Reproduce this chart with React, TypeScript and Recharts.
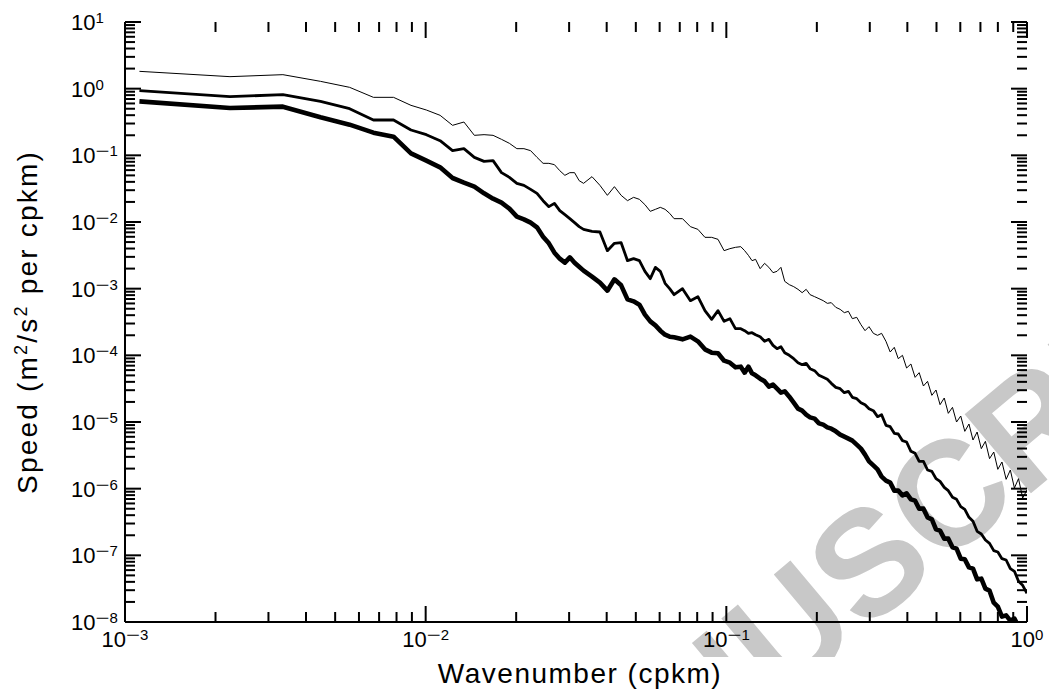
import { LineChart, Line, XAxis, YAxis } from 'recharts';

// spectral bin width of the wavenumber axis (cpkm)
const BIN_WIDTH = 0.001117;

// bins (dense at low k, thinned out at high k)
const binIndex = [
  1, 2, 3, 4, 5, 6, 7, 8, 9, 10,
  11, 12, 13, 14, 15, 16, 17, 18, 19, 20,
  21, 22, 23, 24, 25, 26, 27, 28, 29, 30,
  32, 34, 36, 38, 40, 42, 44, 46, 48, 50,
  52, 54, 56, 58, 60, 64, 68, 72, 76, 80,
  84, 88, 92, 96, 100, 103, 106, 109, 112, 116,
  120, 124, 128, 132, 136, 140, 145, 150, 155, 160,
  165, 170, 176, 182, 188, 194, 200, 207, 214, 221,
  228, 235, 243, 251, 259, 267, 276, 285, 294, 304,
  314, 324, 334, 345, 356, 368, 380, 392, 405, 418,
  432, 446, 460, 475, 490, 506, 522, 539, 556, 574,
  592, 611, 631, 651, 672, 694, 716, 739, 763, 788,
  813, 839, 866, 895,
];

// log10 of the spectral level, one value per bin
const thinLog10 = [
  0.26, 0.18, 0.21, 0.11, 0.02, -0.13, -0.13, -0.25, -0.32, -0.40,
  -0.55, -0.50, -0.70, -0.69, -0.70, -0.76, -0.82, -0.90, -0.90, -0.93,
  -1.03, -1.12, -1.12, -1.14, -1.23, -1.30, -1.26, -1.26, -1.38, -1.42,
  -1.32, -1.45, -1.60, -1.47, -1.60, -1.68, -1.63, -1.66, -1.74, -1.84,
  -1.81, -1.78, -1.81, -1.87, -1.95, -1.95, -2.07, -2.11, -2.23, -2.23,
  -2.26, -2.43, -2.40, -2.38, -2.37, -2.43, -2.50, -2.58, -2.56, -2.70,
  -2.62, -2.68, -2.76, -2.74, -2.68, -2.89, -2.94, -2.97, -3.01, -3.06,
  -3.01, -3.09, -3.12, -3.15, -3.18, -3.22, -3.21, -3.28, -3.31, -3.36,
  -3.34, -3.45, -3.43, -3.54, -3.63, -3.57, -3.67, -3.70, -3.67, -3.79,
  -3.95, -3.88, -4.05, -4.00, -4.19, -4.13, -4.33, -4.26, -4.46, -4.39,
  -4.60, -4.52, -4.74, -4.64, -4.87, -4.78, -5.00, -4.91, -5.14, -5.03,
  -5.27, -5.15, -5.40, -5.29, -5.55, -5.45, -5.71, -5.60, -5.86, -5.72,
  -5.99, -5.85, -6.14, -6.02,
];

const mediumLog10 = [
  -0.03, -0.12, -0.09, -0.19, -0.30, -0.47, -0.47, -0.62, -0.69, -0.78,
  -0.93, -0.90, -1.03, -1.09, -1.08, -1.26, -1.33, -1.42, -1.45, -1.51,
  -1.57, -1.68, -1.77, -1.72, -1.83, -1.89, -1.95, -2.01, -2.07, -2.11,
  -2.14, -2.15, -2.43, -2.32, -2.31, -2.58, -2.55, -2.58, -2.74, -2.85,
  -2.68, -2.74, -2.92, -3.00, -3.09, -3.00, -3.18, -3.12, -3.33, -3.46,
  -3.33, -3.49, -3.45, -3.60, -3.60, -3.63, -3.67, -3.66, -3.69, -3.72,
  -3.79, -3.76, -3.85, -3.90, -3.87, -3.96, -4.00, -4.05, -4.11, -4.14,
  -4.12, -4.20, -4.23, -4.30, -4.33, -4.36, -4.42, -4.48, -4.50, -4.56,
  -4.54, -4.63, -4.65, -4.71, -4.74, -4.80, -4.83, -4.92, -4.89, -5.05,
  -5.07, -5.17, -5.18, -5.28, -5.30, -5.44, -5.47, -5.59, -5.59, -5.72,
  -5.74, -5.85, -5.89, -5.98, -6.03, -6.13, -6.16, -6.27, -6.31, -6.43,
  -6.49, -6.64, -6.68, -6.77, -6.82, -6.93, -6.95, -7.05, -7.07, -7.20,
  -7.24, -7.39, -7.45, -7.57,
];

const thickLog10 = [
  -0.19, -0.29, -0.27, -0.43, -0.54, -0.66, -0.72, -0.97, -1.08, -1.18,
  -1.34, -1.41, -1.47, -1.57, -1.65, -1.71, -1.80, -1.92, -1.96, -2.01,
  -2.08, -2.22, -2.32, -2.46, -2.55, -2.61, -2.53, -2.61, -2.67, -2.73,
  -2.82, -2.91, -3.03, -2.86, -2.95, -3.16, -3.19, -3.24, -3.39, -3.49,
  -3.55, -3.63, -3.69, -3.72, -3.73, -3.76, -3.72, -3.79, -3.91, -3.96,
  -3.97, -4.08, -4.11, -4.18, -4.17, -4.26, -4.17, -4.27, -4.30, -4.35,
  -4.39, -4.47, -4.44, -4.50, -4.56, -4.54, -4.62, -4.71, -4.80, -4.83,
  -4.89, -4.93, -4.95, -5.02, -5.04, -5.08, -5.10, -5.14, -5.19, -5.22,
  -5.25, -5.28, -5.34, -5.40, -5.49, -5.59, -5.65, -5.71, -5.82, -5.88,
  -5.91, -6.03, -6.03, -6.10, -6.07, -6.16, -6.18, -6.30, -6.30, -6.43,
  -6.46, -6.61, -6.63, -6.75, -6.75, -6.88, -6.90, -7.05, -7.06, -7.18,
  -7.20, -7.36, -7.35, -7.50, -7.53, -7.71, -7.77, -7.92, -7.90, -7.98,
  -7.95, -8.07, -8.07, -8.19,
];

const xDecades = [-3, -2, -1, 0];
const yDecades = [-8, -7, -6, -5, -4, -3, -2, -1, 0, 1];
const minorSteps = [1, 2, 3, 4, 5, 6, 7, 8, 9];

const W = 1049;
const H = 696;
const PLOT = { left: 125, right: 1027, top: 22, bottom: 622 };
const FONT = '"Liberation Sans", Arial, Helvetica, sans-serif';

const buildTicks = (decades: number[]) => {
  const out: number[] = [];
  decades.forEach((d, i) => {
    if (i === decades.length - 1) {
      out.push(Math.pow(10, d));
      return;
    }
    minorSteps.forEach(m => out.push(m * Math.pow(10, d)));
  });
  return out;
};

const xTicks = buildTicks(xDecades);
const yTicks = buildTicks(yDecades);

const data = binIndex.map((n, i) => ({
  k: n * BIN_WIDTH,
  thin: Math.pow(10, thinLog10[i]),
  medium: Math.pow(10, mediumLog10[i]),
  thick: Math.pow(10, thickLog10[i]),
}));

const decadeOf = (v: number) => {
  const l = Math.log10(v);
  return Math.abs(l - Math.round(l)) < 1e-6 ? Math.round(l) : null;
};

// "10" with a raised exponent; the minus is stretched like the plot's long dash
const PowerLabel = ({ x, y, exp, anchor }: any) => (
  <text x={x} y={y} textAnchor={anchor} fontFamily={FONT} fontSize={22} fill="#000">
    10
    <tspan dy={-7} fontSize={15}>
      {exp < 0 && <tspan textLength={14} lengthAdjust="spacingAndGlyphs">{'\u2212'}</tspan>}
      {String(Math.abs(exp))}
    </tspan>
  </text>
);

const XTick = (props: any) => {
  const { x, payload } = props;
  const exp = decadeOf(payload.value);
  const len = exp !== null ? 16 : 10;
  return (
    <g>
      <line x1={x} x2={x} y1={PLOT.bottom} y2={PLOT.bottom - len} stroke="#000" strokeWidth={2} />
      <line x1={x} x2={x} y1={PLOT.top} y2={PLOT.top + len} stroke="#000" strokeWidth={2} />
      {exp !== null && <PowerLabel x={x} y={PLOT.bottom + 25} exp={exp} anchor="middle" />}
    </g>
  );
};

const YTick = (props: any) => {
  const { y, payload } = props;
  const exp = decadeOf(payload.value);
  const len = exp !== null ? 16 : 10;
  return (
    <g>
      <line x1={PLOT.left} x2={PLOT.left + len} y1={y} y2={y} stroke="#000" strokeWidth={2} />
      <line x1={PLOT.right - len} x2={PLOT.right} y1={y} y2={y} stroke="#000" strokeWidth={2} />
      {exp !== null && <PowerLabel x={71} y={y + 8} exp={exp} anchor="start" />}
    </g>
  );
};

const XTitle = () => (
  <text x={(PLOT.left + PLOT.right) / 2 + 4} y={683} textAnchor="middle" fontFamily={FONT}
    fontSize={28} letterSpacing={1.5} fill="#000">
    Wavenumber (cpkm)
  </text>
);

const YTitle = () => {
  const cx = 37;
  const cy = (PLOT.top + PLOT.bottom) / 2;
  return (
    <text x={cx} y={cy} transform={`rotate(-90, ${cx}, ${cy})`} textAnchor="middle"
      fontFamily={FONT} fontSize={28} letterSpacing={2.2} fill="#000">
      Speed (m<tspan dy={-10} fontSize={18}>2</tspan>
      <tspan dy={10}>/s</tspan>
      <tspan dy={-10} fontSize={18}>2</tspan>
      <tspan dy={10}> per cpkm)</tspan>
    </text>
  );
};

const frame = { stroke: '#000', strokeWidth: 2 };

export default function App() {
  return (
    <div style={{ position: 'relative', width: W, height: H, background: '#fff' }}>
      <style>{'body{margin:0}'}</style>
      {/* watermark of the source page */}
      <svg width={W} height={H} style={{ position: 'absolute', left: 0, top: 0 }}>
        <defs>
          <clipPath id="wm-clip">
            <rect x={0} y={0} width={W} height={657} />
          </clipPath>
        </defs>
        <g clipPath="url(#wm-clip)">
          <text x={1285} y={280} transform="rotate(-40, 1285, 280)" textAnchor="end"
            fontFamily={FONT} fontWeight="bold" fontSize={150} fill="#c8c8c8">
            ACCEPTED MANUSCRIPT
          </text>
        </g>
      </svg>
      <div style={{ position: 'absolute', left: 0, top: 0 }}>
        <LineChart width={W} height={H} data={data}
          margin={{ top: PLOT.top, right: W - PLOT.right, bottom: 0, left: 0 }}>
          <XAxis dataKey="k" type="number" scale="log" domain={[0.001, 1]} allowDataOverflow
            ticks={xTicks} interval={0} tick={<XTick />} tickLine={false} axisLine={frame}
            height={H - PLOT.bottom} label={<XTitle />} />
          <XAxis xAxisId="top" orientation="top" type="number" scale="log" domain={[0.001, 1]}
            allowDataOverflow height={0} tick={false} tickLine={false} axisLine={frame} />
          <YAxis type="number" scale="log" domain={[1e-8, 10]} allowDataOverflow
            ticks={yTicks} interval={0} tick={<YTick />} tickLine={false} axisLine={frame}
            width={PLOT.left} label={<YTitle />} />
          <YAxis yAxisId="right" orientation="right" type="number" scale="log" domain={[1e-8, 10]}
            allowDataOverflow width={0} tick={false} tickLine={false} axisLine={frame} />
          <Line dataKey="thin" stroke="#000" strokeWidth={1} dot={false} strokeLinejoin="round"
            isAnimationActive={false} />
          <Line dataKey="medium" stroke="#000" strokeWidth={2.8} dot={false} strokeLinejoin="round"
            isAnimationActive={false} />
          <Line dataKey="thick" stroke="#000" strokeWidth={4.6} dot={false} strokeLinejoin="round"
            isAnimationActive={false} />
        </LineChart>
      </div>
    </div>
  );
}
